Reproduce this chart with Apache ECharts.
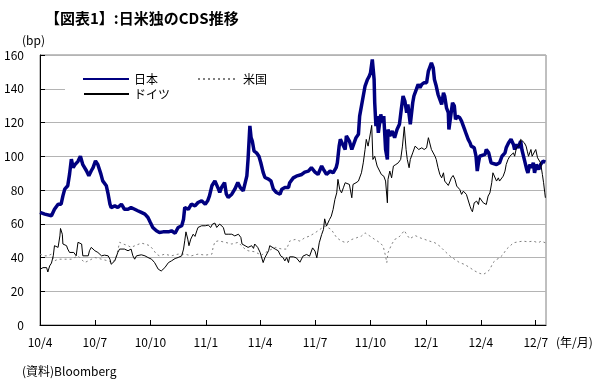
<!DOCTYPE html>
<html>
<head>
<meta charset="utf-8">
<script src="https://cdn.jsdelivr.net/npm/echarts@6/dist/echarts.min.js"></script>
<style>html,body{margin:0;padding:0;background:#fff}#c{width:600px;height:385px}</style>
</head>
<body>
<div id="c"></div>
<script>
// x = days since 2010-04-01
var tickDays = [0, 91, 183, 275, 365, 456, 548, 640, 731, 822];
var tickLabels = ['10/4', '10/7', '10/10', '11/1', '11/4', '11/7', '11/10', '12/1', '12/4', '12/7'];
var seriesNames = ['日本', '米国', 'ドイツ'];

var japanCDS = [[0,66.7],[8,65.7],[19,64.7],[24,68.6],[30,71.6],[35,71.6],[38,76.5],[41,80.5],[46,82.5],[49,89.4],[52,98.3],[55,93.3],[58,95],[63,97],[67,100],[71,95],[77,91.4],[81,88.4],[85,91.4],[88,93.3],[92,97.3],[96,95],[101,89.4],[104,85.4],[110,82.5],[113,77.5],[116,71.6],[118,69.6],[124,70.6],[129,69.6],[135,71.6],[140,68.6],[146,68.6],[151,69.6],[157,68.6],[162,67.7],[168,66.7],[174,65.7],[179,63.7],[183,60.7],[187,57.8],[193,55.8],[198,54.8],[204,55.2],[207,54.8],[213,55.2],[218,55.8],[224,54.4],[229,57.8],[235,58.8],[238,62.7],[240,69.6],[243,70.6],[246,68.6],[251,71.6],[257,70.6],[262,72.6],[268,73.6],[274,71.6],[278,73.6],[281,76.5],[285,82.5],[290,85.4],[293,86],[296,80.5],[298,78.5],[301,81.5],[306,84.4],[309,77.5],[312,75.6],[318,77.5],[323,80.5],[328,84.4],[332,81.5],[337,79.5],[340,78.5],[343,88.4],[345,98.3],[348,118],[350,111],[352,109],[355,103],[359,102],[363,100],[366,96.3],[370,90.4],[373,87.4],[379,86.4],[383,85.4],[387,80.5],[392,78.5],[398,77.5],[401,80.5],[406,81.5],[412,81.5],[414,84.3],[420,87.2],[425,88.2],[434,89.2],[439,90.6],[445,91.2],[450,93.2],[456,90.6],[461,89.2],[467,94.2],[470,92.2],[475,89.2],[481,91.2],[486,90.2],[491,93.2],[493,96.1],[496,106],[498,110],[502,107],[506,104],[508,112],[513,109],[517,104],[520,107],[524,111],[528,113],[530,123.8],[533,124.8],[536,135.7],[539,141.6],[543,145.5],[546,147.5],[548,149.5],[551,157.4],[554,145.5],[555,131.7],[557,117.9],[559,123.8],[561,113.9],[565,124.8],[568,119.8],[570,123.8],[573,104],[576,98.1],[577,115.9],[580,112],[584,114.9],[588,111],[592,115.9],[596,118.9],[599,127.7],[602,135.7],[605,132.7],[608,125.8],[610,130.7],[614,118.9],[618,131.7],[620,135.7],[624,139.6],[627,142.6],[630,140.6],[633,142.6],[637,143.6],[641,143.6],[644,150.5],[646,151.5],[649,155.4],[652,152.4],[654,145.5],[656,146.5],[657,141.6],[660,136.6],[663,133.7],[666,130.7],[669,137.6],[671,135.7],[674,128.7],[677,125.8],[678,115.9],[681,123.8],[684,131.7],[687,129.8],[689,121.8],[692,123.8],[696,122.8],[699,120.8],[702,117.9],[704,115.9],[707,112.9],[710,110],[713,108],[715,106],[720,105],[723,100],[725,91.2],[727,96.1],[729,100],[732,100.5],[738,101.1],[740,104],[744,102],[748,96.1],[751,95.1],[757,95.1],[762,96.1],[766,100],[771,102],[773,105],[777,108],[781,110],[785,107],[787,104],[790,107],[793,105],[797,109],[799,104],[803,98.1],[807,92.2],[809,90.2],[812,95.1],[815,93.2],[818,96.1],[820,90.2],[823,95.1],[827,92.2],[830,95.1],[834,97.1],[838,96.5]];

var usCDS = [[0,42],[8,41],[13,41],[19,42],[24,38],[30,39],[41,39],[52,39],[63,41],[74,37],[80,38],[91,40],[102,39],[113,38],[121,37],[127,41],[132,49],[138,48],[146,47],[151,46],[160,47.4],[168,48.5],[174,48],[182,47],[187,45],[193,42],[198,41],[207,42],[218,41],[229,42],[240,42],[251,41],[262,42],[274,41.4],[285,42],[287,46],[290,49.3],[296,49.9],[307,49],[318,48],[329,49],[334,47],[340,45],[345,44],[356,43.4],[367,41.4],[379,44],[390,46],[401,45],[409,45],[414,49.7],[423,50.7],[431,49.7],[439,51.7],[447,52.7],[456,54.6],[464,56.6],[472,58.6],[478,57.6],[483,56.6],[492,51.7],[500,49.7],[508,48.7],[517,50.7],[525,51.7],[533,52.7],[539,54.6],[547,52.7],[555,50.7],[564,48.7],[569,46.7],[573,40.8],[575,36.9],[577,42.8],[583,47.7],[588,50.7],[594,51.7],[599,53.6],[604,56],[608,53.6],[613,51.1],[622,53],[630,51.7],[638,50.7],[646,49.7],[655,48.7],[663,46.7],[671,43.8],[680,40.8],[688,38.8],[696,36.9],[704,35.9],[713,33.9],[721,32],[729,30.6],[735,30],[740,31],[746,32.9],[751,36.9],[757,38.8],[762,39.8],[768,41.8],[773,44.8],[779,46.7],[785,48.7],[793,49.3],[801,49.7],[809,49.3],[818,49.7],[826,48.7],[831,49.7],[838,48.7]];

var germanyCDS = [[0,33],[5,34],[8,33],[11,34],[13,31.4],[16,35],[19,36.7],[22,41],[24,47],[27,48],[30,46],[33,52.8],[34,57.2],[37,53.8],[38,48],[41,49],[44,47],[46,45],[49,43],[52,42],[56,43],[60,41],[63,49],[66,49.3],[69,48],[71,41],[74,40],[80,41],[82,44],[85,46],[88,46],[91,44],[96,43],[102,41],[107,41.4],[113,41],[116,39],[118,36],[121,36],[124,38],[129,43],[132,45],[135,44],[140,45],[146,44],[151,45],[154,41],[157,39],[160,41],[162,41],[168,41.6],[174,41],[179,40],[185,39],[190,37],[196,33.1],[201,32],[207,34],[213,37],[218,38],[224,39.4],[229,40],[235,41],[238,45],[240,49.9],[242,55.2],[245,50.9],[247,47],[250,50.9],[254,53.8],[257,52.5],[260,55.8],[262,57.8],[268,58.8],[274,58.8],[279,59.2],[283,57.8],[286,59.8],[290,60.4],[293,57.8],[296,58.8],[298,59.8],[301,60.8],[304,57.8],[307,53.8],[312,53.8],[318,53.8],[323,52.8],[329,53.8],[333,51.9],[335,48],[340,47],[345,46],[351,47],[354,45.4],[356,48],[361,46],[365,43],[370,37],[373,40],[379,44],[381,47],[384,46],[390,45],[395,44],[399,41],[403,40],[406,38],[409,40],[412,37],[414,40.4],[420,40.4],[425,39.8],[431,37.2],[436,40.8],[442,41.8],[447,40.8],[452,45.7],[456,43.8],[459,39.8],[463,48.7],[467,53.6],[470,56.6],[472,62.9],[475,58.6],[480,62.5],[483,64.5],[486,68.5],[489,74.4],[492,78.3],[494,86.3],[497,80.3],[500,78.3],[503,81.3],[506,84.3],[509,85.3],[513,83.3],[517,75.4],[519,83.3],[524,84.3],[528,85.3],[530,86.3],[533,90.2],[536,96.1],[539,104],[541,110],[544,106],[547,112],[550,118.3],[552,98.1],[555,100],[559,94.2],[562,95.1],[566,89.2],[570,88.2],[573,85.3],[576,72.4],[577,86.3],[580,91.2],[583,87.2],[586,94.2],[590,95.1],[594,96.1],[598,98.1],[601,106],[604,117.5],[607,104],[609,98.1],[612,93.2],[614,98.1],[618,102],[622,106],[624,107],[628,104],[633,105],[637,104],[641,105],[644,111],[646,111.5],[649,104],[652,105],[655,100],[657,98.1],[660,93.2],[663,89.2],[666,87.2],[669,90.2],[671,85.3],[674,84.3],[677,82.7],[680,85.3],[682,87.2],[685,88.6],[688,86.3],[691,82.3],[693,82.3],[696,80.3],[699,77.4],[702,79.3],[704,78.3],[707,77.4],[710,76.4],[713,70.4],[715,68.5],[717,67.1],[720,72.4],[724,73.4],[727,71.4],[729,75.4],[732,75.4],[735,72.4],[738,73.4],[740,71.4],[743,76.4],[746,78.3],[749,84.3],[751,90.2],[754,89.2],[757,85.3],[760,87.2],[762,85.3],[765,86.3],[768,88.2],[771,91.2],[773,95.1],[776,98.1],[779,100],[782,100],[785,102],[787,100],[790,105],[793,106],[796,107],[797,110],[799,109],[803,108],[806,106],[808,103],[810,100],[814,104],[816,100],[819,99.1],[822,104],[825,99.1],[827,99.7],[830,96.1],[833,89.2],[835,84.3],[837,78.3],[838,75.4]];

var FONT = '"Noto Sans CJK JP", "Noto Sans", sans-serif';
var chart = echarts.init(document.getElementById('c'), null, {renderer: 'canvas'});

function legendFor(name, left, top, w) {
  return {
    data: [name], left: left, top: top, itemWidth: w, itemHeight: 12,
    padding: 0, z: 20, selectedMode: false,
    itemStyle: {opacity: 0},
    textStyle: {fontFamily: FONT, fontSize: 12, color: '#000'}
  };
}

chart.setOption({
  animation: false,
  backgroundColor: '#fff',
  title: {
    text: '【図表1】:日米独のCDS推移', left: 40, top: 6,
    textStyle: {fontFamily: FONT, fontSize: 15, fontWeight: 'bold', color: '#000'}
  },
  grid: {left: 40, right: 54, top: 55, bottom: 60, show: true, borderColor: '#808080', borderWidth: 1, containLabel: false, outerBoundsMode: 'none'},
  legend: [
    legendFor(seriesNames[0], 82, 73, 46),
    legendFor(seriesNames[1], 197, 73, 40),
    legendFor(seriesNames[2], 83, 88, 45)
  ],
  graphic: [
    {type: 'rect', z: 10, shape: {x: 65, y: 66, width: 225, height: 36}, style: {fill: '#fff'}},
    {type: 'text', left: 22, top: 34, style: {text: '(bp)', font: '12px ' + FONT, fill: '#000'}},
    {type: 'text', left: 556, top: 336, style: {text: '(年/月)', font: '12px ' + FONT, fill: '#000'}},
    {type: 'text', left: 22, top: 365, style: {text: '(資料)Bloomberg', font: '12px ' + FONT, fill: '#000'}}
  ],
  xAxis: {
    type: 'value', min: 0, max: 839,
    axisLine: {show: true, onZero: false, lineStyle: {color: '#000', width: 1}},
    axisTick: {show: true, inside: true, length: 5, customValues: tickDays, lineStyle: {color: '#000'}},
    axisLabel: {
      show: true, customValues: tickDays, margin: 11,
      fontFamily: FONT, fontSize: 12, color: '#000',
      formatter: function (v) { var i = tickDays.indexOf(Math.round(v)); return i >= 0 ? tickLabels[i] : ''; }
    },
    splitLine: {show: false}
  },
  yAxis: {
    type: 'value', min: 0, max: 160, interval: 20,
    axisLine: {show: true, lineStyle: {color: '#000', width: 1}},
    axisTick: {show: true, inside: true, length: 5, lineStyle: {color: '#000'}},
    axisLabel: {margin: 16, fontFamily: FONT, fontSize: 12, color: '#000'},
    splitLine: {show: true, lineStyle: {color: '#b4b4b4', width: 1}}
  },
  series: [
    {name: seriesNames[0], type: 'line', data: japanCDS, symbol: 'none', showSymbol: false,
     lineStyle: {color: '#000080', width: 3.5}, itemStyle: {color: '#000080'}},
    {name: seriesNames[1], type: 'line', data: usCDS, symbol: 'none', showSymbol: false,
     lineStyle: {color: '#808080', width: 1, type: [2, 3]}, itemStyle: {color: '#808080'}},
    {name: seriesNames[2], type: 'line', data: germanyCDS, symbol: 'none', showSymbol: false,
     lineStyle: {color: '#000', width: 1}, itemStyle: {color: '#000'}}
  ]
});
</script>
</body>
</html>
